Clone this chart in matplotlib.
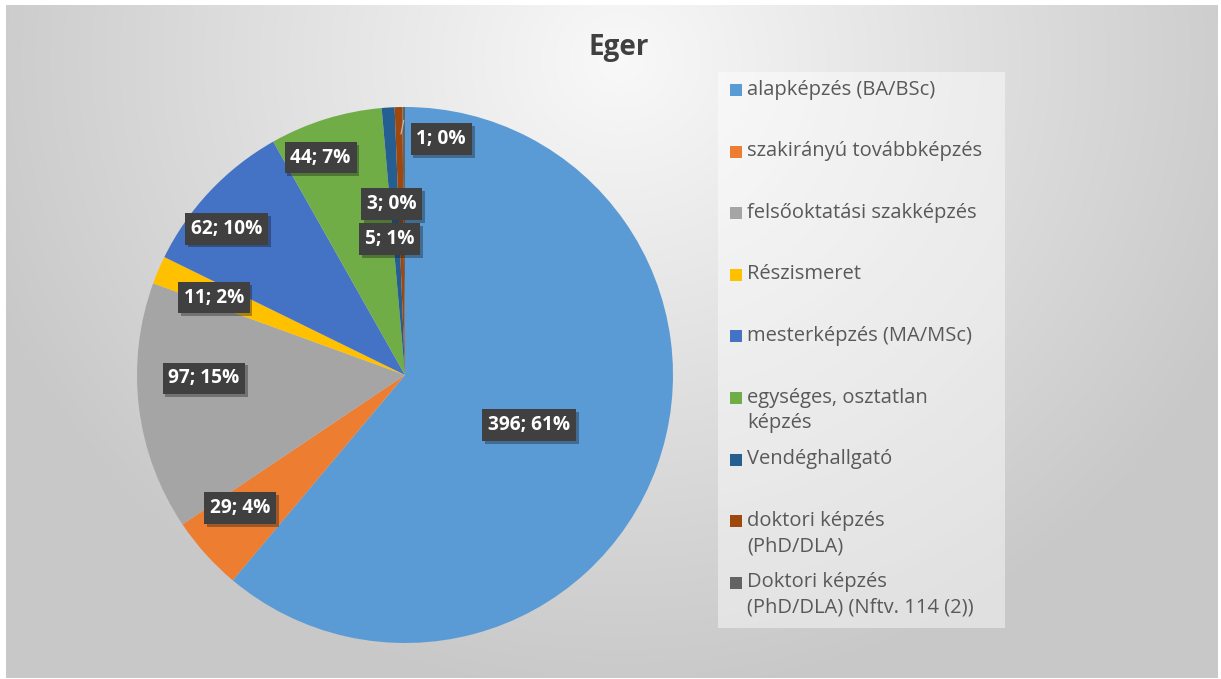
import numpy as np
import matplotlib
matplotlib.use("Agg")
import matplotlib.pyplot as plt
from matplotlib.patches import Rectangle
import matplotlib.patheffects as pe

# ---- data ----
categories = [
    "alapképzés (BA/BSc)",
    "szakirányú továbbképzés",
    "felsőoktatási szakképzés",
    "Részismeret",
    "mesterképzés (MA/MSc)",
    "egységes, osztatlan\nképzés",
    "Vendéghallgató",
    "doktori képzés\n(PhD/DLA)",
    "Doktori képzés\n(PhD/DLA) (Nftv. 114 (2))",
]
values = [396, 29, 97, 11, 62, 44, 5, 3, 1]
percent_labels = ["61%", "4%", "15%", "2%", "10%", "7%", "1%", "0%", "0%"]
title = "Eger"

# ---- styles / layout ----
colors = ["#5B9BD5", "#ED7D31", "#A5A5A5", "#FFC000", "#4472C4",
          "#70AD47", "#255E91", "#9E480E", "#636363"]
# label placement: radius (fraction of R) and angle nudge (deg)
label_r = [0.50, 0.79, 0.75, 0.77, 0.86, 0.87, 0.51, 0.64, 0.89]
label_dang = [-2, -3, -6, 1, 4, 4, 3, 3, -9]

W, H = 1221, 679
fig = plt.figure(figsize=(W / 100, H / 100), dpi=100)
fig.patch.set_facecolor("white")

# background gradient in chart area
bg = fig.add_axes([6 / W, 1 - 678 / H, (1218 - 6) / W, (678 - 5) / H])
yy, xx = np.mgrid[5:678, 6:1218]
t = np.sqrt(((xx - 620) / 680.0) ** 2 + ((yy - 60) / 640.0) ** 2)
t = np.clip(t, 0, 1)
g = 0.975 - 0.19 * t
img = np.dstack([g, g, g])
bg.imshow(img, aspect="auto", extent=[0, 1, 0, 1], interpolation="bilinear")
bg.set_axis_off()

# title
fig.text(619 / W, 1 - 47 / H, title, ha="center", va="center",
         fontsize=20, fontweight="bold", color="#404040", family="Open Sans")

# pie
cx, cy, R = 405, 375, 268
pax = fig.add_axes([(cx - R) / W, 1 - (cy + R) / H, 2 * R / W, 2 * R / H])
wedges, _ = pax.pie(values, colors=colors, startangle=90, counterclock=False,
                    radius=1.0, wedgeprops=dict(linewidth=0))
pax.set_xlim(-1, 1)
pax.set_ylim(-1, 1)
pax.set_aspect("equal")
pax.set_axis_off()

for i, w in enumerate(wedges):
    ang = np.deg2rad((w.theta1 + w.theta2) / 2 + label_dang[i])
    x = label_r[i] * np.cos(ang)
    y = label_r[i] * np.sin(ang)
    txt = pax.text(x, y, f"{values[i]}; {percent_labels[i]}", ha="center", va="center",
                   fontsize=13.8, fontweight="bold", color="white", family="Open Sans",
                   bbox=dict(boxstyle="square,pad=0.3", facecolor="#404040",
                             edgecolor="none"), zorder=5)
    txt.get_bbox_patch().set_path_effects(
        [pe.SimplePatchShadow(offset=(2, -2), alpha=0.35), pe.Normal()])
    if i == len(wedges) - 1:
        a0 = np.deg2rad((w.theta1 + w.theta2) / 2)
        pax.plot([0.95 * np.cos(a0), x - 0.15], [0.95 * np.sin(a0), y + 0.02],
                 color="#BFBFBF", lw=0.8, zorder=4)

# legend box
lg = fig.add_axes([718 / W, 1 - 628 / H, (1005 - 718) / W, (628 - 72) / H])
lg.set_xlim(718, 1005)
lg.set_ylim(628, 72)
lg.set_facecolor((1, 1, 1, 0.45))
for s in lg.spines.values():
    s.set_visible(False)
lg.set_xticks([])
lg.set_yticks([])

y0, pitch = 90, 61.6
for i, lab in enumerate(categories):
    yc = y0 + i * pitch
    lg.add_patch(Rectangle((730, yc - 6), 12, 12, facecolor=colors[i], edgecolor="none"))
    lg.text(747, yc - 10.5, lab, ha="left", va="top", fontsize=14.5,
            color="#595959", family="Open Sans", linespacing=1.38)

fig.savefig("out.png", dpi=100)
